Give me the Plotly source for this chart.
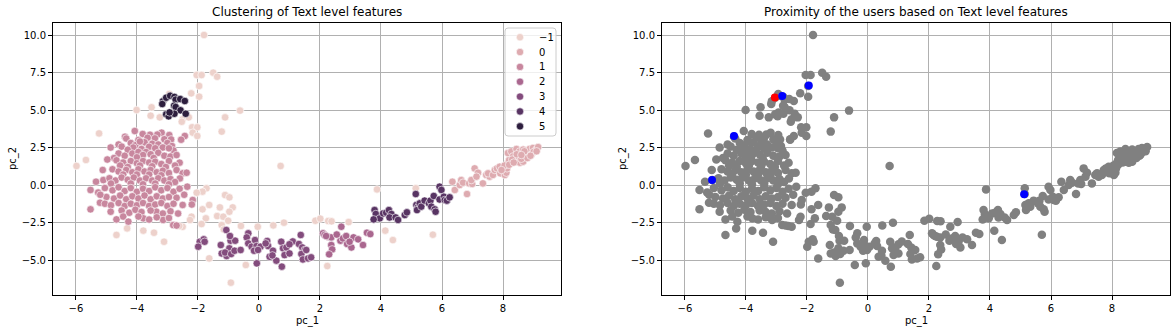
import plotly.graph_objects as go

# ---------------- data (pc_1, pc_2) per cluster ----------------
cluster_labels = ["−1", "0", "1", "2", "3", "4", "5"]

noise_pts = [
    (-1.80, 10.0), (-2.04, 7.33), (-1.88, 7.33), (-1.50, 7.49), (-1.37, 7.22), (-1.96, 6.60),
    (-2.22, 6.11), (-1.96, 5.89), (-2.94, 6.07), (-0.62, 4.96), (-4.01, 5.00), (-3.52, 5.18),
    (-3.55, 4.62), (-3.25, 4.51), (-2.50, 4.38), (-2.53, 4.22), (-2.30, 4.51), (-1.11, 4.51),
    (-2.19, 3.85), (-2.02, 3.85), (-2.17, 3.49), (-2.02, 3.27), (-1.22, 3.56), (-2.55, 3.05),
    (-5.24, 3.44), (-5.67, 1.67), (-5.98, 1.27), (0.71, 1.27), (-1.72, -0.22), (-1.85, -0.44),
    (-2.04, -0.51), (-1.85, -1.62), (-1.63, -1.33), (-1.74, -2.22), (-1.88, -2.60), (-2.21, -2.11),
    (-2.26, -2.33), (-2.50, -2.78), (-2.61, -2.73), (-1.11, -0.67), (-0.97, -0.82), (-1.28, -1.49),
    (-0.86, -1.49), (-0.97, -1.78), (-1.37, -2.07), (-1.17, -2.11), (-1.01, -2.38), (-1.22, -2.67),
    (-1.15, -2.96), (-0.59, -2.73), (-0.04, -2.78), (0.47, -2.69), (0.82, -2.51), (-4.32, -2.89),
    (-4.67, -3.33), (-3.79, -3.04), (-3.44, -3.18), (-3.11, -3.78), (-1.63, -4.89), (-0.43, -5.33),
    (-0.92, -6.51), (1.85, -2.38), (2.01, -2.24), (2.27, -2.40), (2.38, -2.42), (2.94, -2.47),
    (3.87, -0.29), (4.14, -3.04), (4.39, -3.67), (2.24, -5.40), (5.14, -0.22), (5.70, -3.31),
]

c0_pts = [
    (6.34, 0.22), (6.42, -0.33), (6.58, 0.00), (6.63, 0.33), (6.69, 0.16), (6.82, -0.60),
    (6.89, 0.11), (6.99, 0.07), (6.96, 0.33), (7.07, 1.11), (7.18, 0.82), (7.13, 0.56),
    (7.34, 0.11), (7.45, 0.67), (7.56, 0.56), (7.51, 0.78), (7.67, 0.67), (7.73, 1.00),
    (7.80, 1.11), (7.89, 1.22), (7.91, 0.78), (8.06, 0.67), (8.11, 0.82), (8.13, 1.11),
    (8.16, 1.49), (8.20, 1.67), (8.44, 1.56), (8.55, 1.49), (8.66, 1.56), (8.16, 2.13),
    (8.27, 2.24), (8.44, 2.40), (8.55, 2.24), (8.66, 2.36), (8.77, 2.13), (8.87, 2.40),
    (8.98, 2.47), (9.09, 2.36), (8.33, 1.91), (8.49, 1.91), (8.71, 1.91), (8.93, 2.02),
    (9.15, 2.53), (8.30, 1.70), (8.60, 1.75), (8.80, 1.80), (9.00, 2.20), (8.90, 1.95),
    (8.45, 2.05), (8.70, 2.25), (9.10, 2.25), (8.05, 1.30), (7.95, 1.00), (8.20, 1.35),
    (8.35, 1.50), (8.60, 2.00),
]

c1_pts = [
    (-4.07, 3.60), (-3.19, 3.49), (-3.33, 3.36), (-3.57, 3.35), (-2.94, 3.33), (-3.81, 3.40), (-2.43, 3.27),
    (-4.39, 3.22), (-4.35, 3.10), (-3.41, 3.11), (-3.10, 3.05), (-2.88, 3.04), (-3.65, 3.15), (-3.95, 3.00),
    (-2.55, 3.02),
    (-4.20, 2.80), (-3.75, 2.85), (-3.50, 2.75), (-3.30, 2.70), (-3.00, 2.80), (-2.85, 2.60), (-4.05, 2.65),
    (-3.90, 2.90), (-4.60, 2.70),
    (-4.86, 2.50), (-4.50, 2.56), (-4.12, 2.50), (-3.85, 2.40), (-3.60, 2.55), (-3.40, 2.45), (-3.15, 2.50),
    (-2.80, 2.30), (-2.95, 2.45), (-4.30, 2.35), (-3.70, 2.20),
    (-4.60, 2.10), (-4.40, 1.95), (-4.15, 2.10), (-3.95, 2.20), (-3.80, 2.00), (-3.55, 2.05), (-3.30, 2.15),
    (-3.10, 1.95), (-2.90, 1.90), (-2.70, 2.00), (-4.00, 1.85), (-3.45, 1.80), (-4.75, 1.80),
    (-4.97, 1.70), (-4.67, 1.65), (-4.45, 1.50), (-4.20, 1.60), (-4.00, 1.45), (-3.80, 1.60), (-3.60, 1.50),
    (-3.40, 1.55), (-3.20, 1.40), (-2.95, 1.60), (-2.60, 1.49), (-2.75, 1.30), (-4.55, 1.30), (-3.90, 1.30),
    (-3.50, 1.25), (-3.05, 1.20), (-4.30, 1.20),
    (-5.12, 1.00), (-4.80, 1.05), (-4.60, 0.90), (-4.35, 1.00), (-4.15, 0.85), (-3.95, 1.05), (-3.75, 0.90),
    (-3.55, 1.00), (-3.35, 0.85), (-3.15, 0.95), (-2.95, 0.80), (-2.70, 1.00), (-2.50, 0.78), (-2.37, 0.82),
    (-4.00, 0.70), (-3.60, 0.70), (-3.20, 0.65), (-4.45, 0.70),
    (-5.34, 0.22), (-5.10, 0.33), (-4.90, 0.45), (-4.70, 0.30), (-4.50, 0.50), (-4.30, 0.35), (-4.10, 0.50),
    (-3.90, 0.30), (-3.70, 0.45), (-3.50, 0.30), (-3.30, 0.45), (-3.10, 0.30), (-2.90, 0.40), (-2.59, 0.44),
    (-2.75, 0.20), (-4.85, 0.10), (-4.20, 0.10), (-3.80, 0.05), (-3.40, 0.10), (-2.95, 0.05),
    (-5.52, -0.33), (-5.27, -0.50), (-5.05, -0.20), (-4.80, -0.35), (-4.60, -0.15), (-4.40, -0.40),
    (-4.20, -0.20), (-4.00, -0.45), (-3.80, -0.25), (-3.60, -0.40), (-3.40, -0.15), (-3.20, -0.35),
    (-3.00, -0.20), (-2.80, -0.45), (-2.35, -0.11), (-2.60, -0.25),
    (-5.00, -0.80), (-4.75, -0.90), (-4.55, -0.70), (-4.35, -0.95), (-4.15, -0.75), (-3.95, -0.90),
    (-3.75, -0.70), (-3.55, -0.95), (-3.35, -0.75), (-3.15, -0.90), (-2.95, -0.80), (-2.70, -0.85),
    (-2.45, -0.65), (-2.17, -1.00), (-5.20, -0.65),
    (-5.21, -1.18), (-5.05, -1.25), (-4.85, -1.35), (-4.60, -1.20), (-4.40, -1.40), (-4.20, -1.25),
    (-4.00, -1.35), (-3.80, -1.20), (-3.60, -1.40), (-3.40, -1.30), (-3.20, -1.20), (-3.00, -1.40),
    (-2.80, -1.25), (-2.50, -1.33), (-2.20, -1.30),
    (-5.52, -1.62), (-4.86, -1.78), (-4.50, -1.70), (-4.25, -1.85), (-4.05, -1.65), (-3.85, -1.80),
    (-3.36, -1.78), (-3.55, -1.70), (-3.15, -1.90), (-2.90, -1.75), (-2.65, -1.90),
    (-4.67, -2.29), (-4.45, -2.10), (-4.28, -2.44), (-3.79, -2.22), (-3.95, -2.10), (-3.14, -2.33),
    (-3.35, -2.15), (-2.95, -2.20), (-2.81, -2.67), (-2.70, -2.70), (-3.60, -2.30),
]

c2_pts = [
    (2.10, -3.22), (2.15, -3.33), (2.26, -3.44), (2.37, -3.49), (2.70, -2.78), (2.67, -3.71),
    (2.75, -3.56), (2.86, -3.40), (2.89, -3.93), (3.03, -4.16), (3.10, -3.49), (3.25, -3.62),
    (3.41, -4.00), (3.54, -3.18), (3.65, -3.27), (2.37, -4.00), (2.40, -4.29), (2.30, -4.62),
    (2.97, -3.78), (2.20, -3.40), (2.55, -3.30),
]

c3_pts = [
    (-1.94, -3.78), (-1.81, -3.62), (-1.78, -3.78), (-1.99, -4.11), (-1.07, -3.00), (-1.25, -4.00),
    (-1.22, -4.56), (-1.06, -4.73), (-0.97, -4.22), (-0.93, -3.71), (-0.78, -3.71), (-0.95, -3.40),
    (-1.11, -4.50), (-0.91, -4.60), (-0.80, -4.38), (-0.60, -4.33), (-0.35, -3.22), (-0.40, -3.49),
    (-0.35, -3.89), (-0.24, -4.11), (-0.13, -3.67), (-0.08, -4.07), (-0.16, -4.38), (0.05, -4.11),
    (-0.07, -5.22), (-0.03, -4.33), (0.27, -3.73), (0.30, -4.07), (0.46, -4.38), (0.35, -4.78),
    (0.57, -5.04), (0.44, -4.69), (0.22, -3.89), (0.73, -3.78), (0.79, -4.22), (0.84, -4.67),
    (0.90, -4.16), (1.00, -4.56), (1.11, -3.76), (0.75, -5.44), (1.00, -3.95), (1.31, -3.93),
    (1.37, -3.33), (1.42, -4.16), (1.50, -4.33), (1.39, -4.60), (1.44, -4.96), (1.61, -4.89),
    (1.71, -4.82), (1.55, -4.33),
]

c4_pts = [
    (3.79, -1.67), (3.83, -1.93), (3.96, -2.22), (4.07, -1.89), (4.17, -1.84), (4.26, -1.67),
    (4.34, -1.93), (4.28, -2.16), (3.76, -2.29), (4.48, -2.16), (4.56, -2.33), (4.78, -2.00),
    (4.85, -1.82), (5.14, -0.60), (5.16, -1.33), (5.21, -1.49), (5.18, -1.67), (5.27, -1.22),
    (5.32, -1.44), (5.43, -1.04), (5.57, -1.22), (5.62, -1.04), (5.65, -1.44), (5.73, -0.73),
    (5.76, -1.62), (5.79, -1.78), (5.92, -0.11), (5.98, -0.33), (5.92, -0.96), (6.06, -0.78),
    (6.09, -1.00), (6.16, -1.04), (6.25, -0.82),
]

c5_pts = [
    (-3.15, 5.58), (-3.17, 5.40), (-3.04, 5.82), (-2.91, 5.95), (-2.77, 5.87), (-2.73, 5.69),
    (-2.58, 5.73), (-2.43, 5.60), (-2.78, 5.29), (-2.73, 5.20), (-2.57, 4.98), (-2.40, 4.75),
    (-3.04, 4.71), (-2.96, 4.58), (-2.77, 4.75), (-2.93, 4.84),
]

highlight_blue = [(-5.11, 0.34), (-4.39, 3.26), (-2.81, 5.93), (-1.94, 6.64), (5.12, -0.61)]
highlight_red = [(-3.05, 5.83)]

clusters = [noise_pts, c0_pts, c1_pts, c2_pts, c3_pts, c4_pts, c5_pts]
cluster_colors = ["#edd1cb", "#deabb0", "#c8879e", "#aa678f", "#834c7d", "#583463", "#2d1e3e"]

# ---------------- figure ----------------
W, H = 1176, 334
FONT = "DejaVu Sans"

fig = go.Figure()

for lab, pts, col in zip(cluster_labels, clusters, cluster_colors):
    fig.add_trace(go.Scatter(
        x=[p[0] for p in pts], y=[p[1] for p in pts], mode="markers", name=lab,
        marker=dict(size=7.5, color=col, line=dict(color="white", width=0.6)),
        xaxis="x", yaxis="y", showlegend=False,
    ))

all_pts = [p for pts in clusters for p in pts]
fig.add_trace(go.Scatter(
    x=[p[0] for p in all_pts], y=[p[1] for p in all_pts], mode="markers",
    marker=dict(size=8.5, color="gray"), xaxis="x2", yaxis="y2", showlegend=False,
))
fig.add_trace(go.Scatter(
    x=[p[0] for p in highlight_red], y=[p[1] for p in highlight_red], mode="markers",
    marker=dict(size=8, color="red"), xaxis="x2", yaxis="y2", showlegend=False,
))
fig.add_trace(go.Scatter(
    x=[p[0] for p in highlight_blue], y=[p[1] for p in highlight_blue], mode="markers",
    marker=dict(size=8, color="blue"), xaxis="x2", yaxis="y2", showlegend=False,
))


def px_x(v):
    return v / W


def px_y(v):
    return 1 - v / H


left_dom = [px_x(53), px_x(561)]
right_dom = [px_x(662), px_x(1170)]
y_dom = [px_y(295), px_y(23)]

xcommon = dict(range=[-6.75, 9.9], tickmode="array", tickvals=[-6, -4, -2, 0, 2, 4, 6, 8],
               showgrid=True, gridcolor="#b0b0b0", gridwidth=1, zeroline=False,
               showline=True, linecolor="black", linewidth=1, mirror=True,
               ticks="outside", ticklen=4, tickcolor="black",
               tickfont=dict(family=FONT, size=10, color="black"))
ycommon = dict(range=[-7.33, 10.8], tickmode="array", tickvals=[-5, -2.5, 0, 2.5, 5, 7.5, 10],
               tickformat=".1f",
               showgrid=True, gridcolor="#b0b0b0", gridwidth=1, zeroline=False,
               showline=True, linecolor="black", linewidth=1, mirror=True,
               ticks="outside", ticklen=4, tickcolor="black",
               tickfont=dict(family=FONT, size=10, color="black"))

# ---- legend drawn as a framed box (matplotlib/seaborn style) ----
shapes = []
annotations = []
lx0, lx1, ly0, ly1, r = 505, 556, 28, 136, 3
rx, ry = r / W, r / H
X0, X1, Y0, Y1 = px_x(lx0), px_x(lx1), px_y(ly0), px_y(ly1)
path = (f"M {X0 + rx},{Y0} L {X1 - rx},{Y0} Q {X1},{Y0} {X1},{Y0 - ry} "
        f"L {X1},{Y1 + ry} Q {X1},{Y1} {X1 - rx},{Y1} L {X0 + rx},{Y1} "
        f"Q {X0},{Y1} {X0},{Y1 + ry} L {X0},{Y0 - ry} Q {X0},{Y0} {X0 + rx},{Y0} Z")
shapes.append(dict(type="path", xref="paper", yref="paper", path=path,
                   fillcolor="rgba(255,255,255,0.8)", line=dict(color="#cccccc", width=1)))
row_y0, row_dy = 37.2, 14.85
mx, mr = 520, 3.7
for i, (lab, col) in enumerate(zip(cluster_labels, cluster_colors)):
    cy = row_y0 + i * row_dy
    shapes.append(dict(type="circle", xref="paper", yref="paper",
                       x0=px_x(mx - mr), x1=px_x(mx + mr), y0=px_y(cy + mr), y1=px_y(cy - mr),
                       fillcolor=col, line=dict(color="white", width=0.6)))
    annotations.append(dict(text=lab, x=px_x(536.5), y=px_y(cy), xref="paper", yref="paper",
                            showarrow=False, font=dict(family=FONT, size=10, color="black"),
                            xanchor="left", yanchor="middle"))

annotations += [
    dict(text="Clustering of Text level features", x=(left_dom[0] + left_dom[1]) / 2, y=px_y(12),
         xref="paper", yref="paper", showarrow=False, font=dict(family=FONT, size=12),
         xanchor="center", yanchor="middle"),
    dict(text="Proximity of the users based on Text level features", x=(right_dom[0] + right_dom[1]) / 2,
         y=px_y(12), xref="paper", yref="paper", showarrow=False, font=dict(family=FONT, size=12),
         xanchor="center", yanchor="middle"),
    dict(text="pc_1", x=(left_dom[0] + left_dom[1]) / 2, y=px_y(321), xref="paper", yref="paper",
         showarrow=False, font=dict(family=FONT, size=10), xanchor="center", yanchor="middle"),
    dict(text="pc_1", x=(right_dom[0] + right_dom[1]) / 2, y=px_y(321), xref="paper", yref="paper",
         showarrow=False, font=dict(family=FONT, size=10), xanchor="center", yanchor="middle"),
    dict(text="pc_2", x=px_x(13), y=(y_dom[0] + y_dom[1]) / 2, xref="paper", yref="paper",
         showarrow=False, font=dict(family=FONT, size=10), textangle=-90,
         xanchor="center", yanchor="middle"),
    dict(text="pc_2", x=px_x(623), y=(y_dom[0] + y_dom[1]) / 2, xref="paper", yref="paper",
         showarrow=False, font=dict(family=FONT, size=10), textangle=-90,
         xanchor="center", yanchor="middle"),
]

fig.update_layout(
    width=W, height=H, margin=dict(l=0, r=0, t=0, b=0),
    paper_bgcolor="white", plot_bgcolor="white",
    font=dict(family=FONT, size=10, color="black"),
    showlegend=False,
    xaxis=dict(domain=left_dom, anchor="y", **xcommon),
    yaxis=dict(domain=y_dom, anchor="x", **ycommon),
    xaxis2=dict(domain=right_dom, anchor="y2", **xcommon),
    yaxis2=dict(domain=y_dom, anchor="x2", **ycommon),
    shapes=shapes,
    annotations=annotations,
)

fig.write_html("out.html")
